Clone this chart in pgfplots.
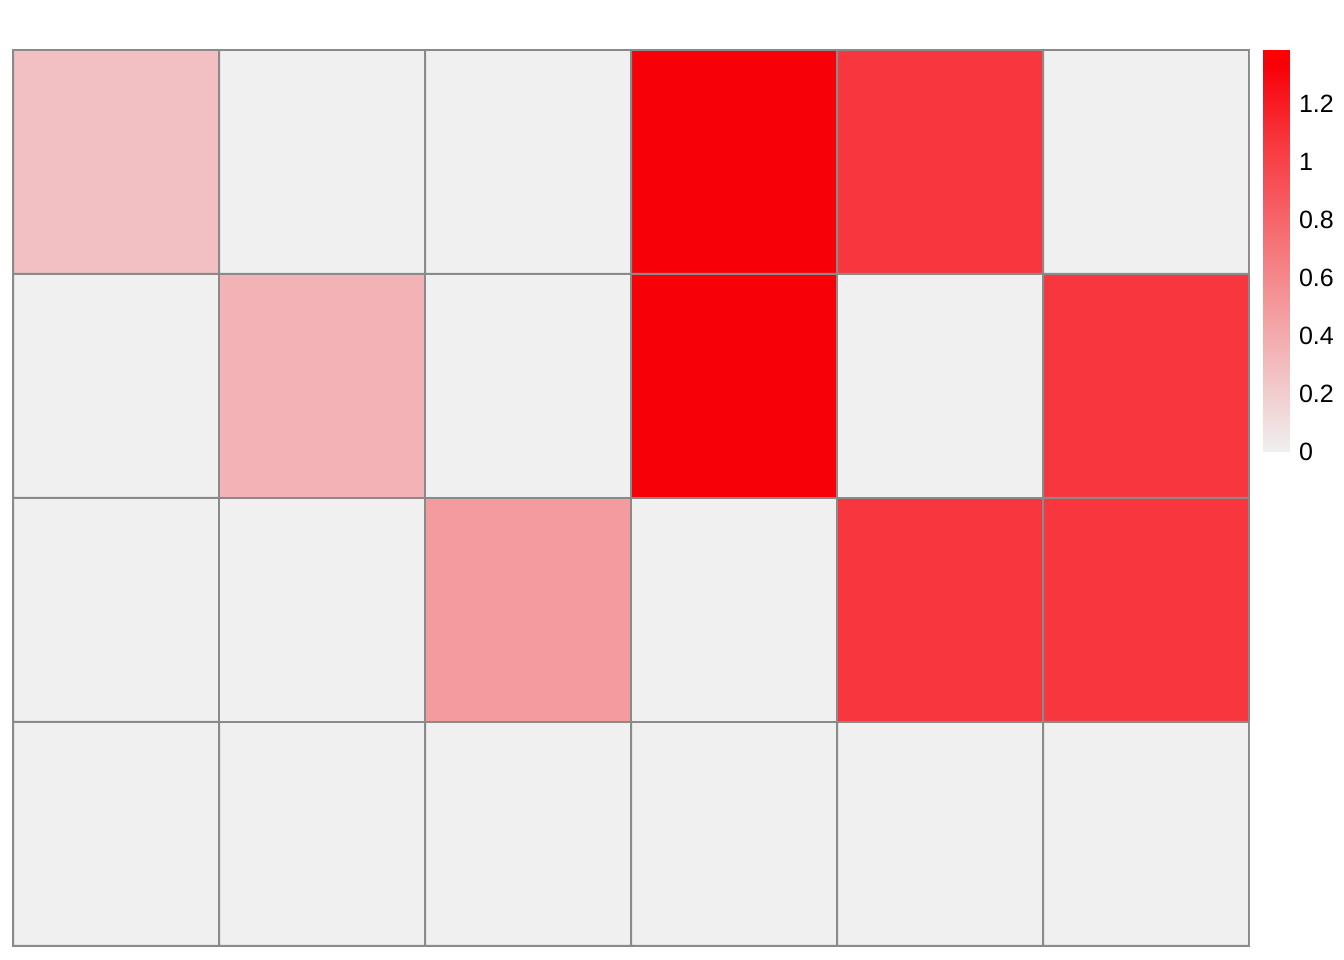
\documentclass[border=0pt]{standalone}
\usepackage{pgfplots}
\pgfplotsset{compat=1.18}
\usepackage{fontspec}
\setmainfont{Liberation Sans}
\definecolor{gridgray}{RGB}{138,138,138}
\begin{document}
\begin{tikzpicture}
\useasboundingbox (0,0) rectangle (672bp,480bp);
\begin{axis}[
  at={(6.5bp,7bp)}, anchor=south west,
  scale only axis, width=618bp, height=448bp,
  xmin=-0.5, xmax=5.5, ymin=-0.5, ymax=3.5,
  xtick=\empty, ytick=\empty,
  axis line style={draw=gridgray, line width=1bp},
  colormap={redmap}{rgb255(0pt)=(240,240,240) rgb255(77.5pt)=(248,54,61) rgb255(96pt)=(248,0,8) rgb255(100pt)=(255,0,0)},
  point meta min=0, point meta max=1.386,
  colorbar,
  colorbar style={
    at={(1.0113,1)}, anchor=north west,
    width=13.5bp, height=201bp,
    scale only axis,
    axis line style={draw=none},
    ytick={0,0.2,0.4,0.6,0.8,1,1.2},
    yticklabels={0,0.2,0.4,0.6,0.8,1,1.2},
    major tick length=0pt,
    yticklabel style={font=\fontsize{12.5bp}{14bp}\selectfont, xshift=1bp},
  },
]
\addplot[matrix plot*, mesh/cols=6, point meta=explicit, draw=gridgray, line width=1bp] table[meta=c] {
x y c
0 0 0
1 0 0
2 0 0
3 0 0
4 0 0
5 0 0
0 1 0
1 1 0
2 1 0.49
3 1 0
4 1 1.074
5 1 1.074
0 2 0
1 2 0.35
2 2 0
3 2 1.33
4 2 0
5 2 1.074
0 3 0.277
1 3 0
2 3 0
3 3 1.33
4 3 1.074
5 3 0
};
\end{axis}
\end{tikzpicture}
\end{document}
